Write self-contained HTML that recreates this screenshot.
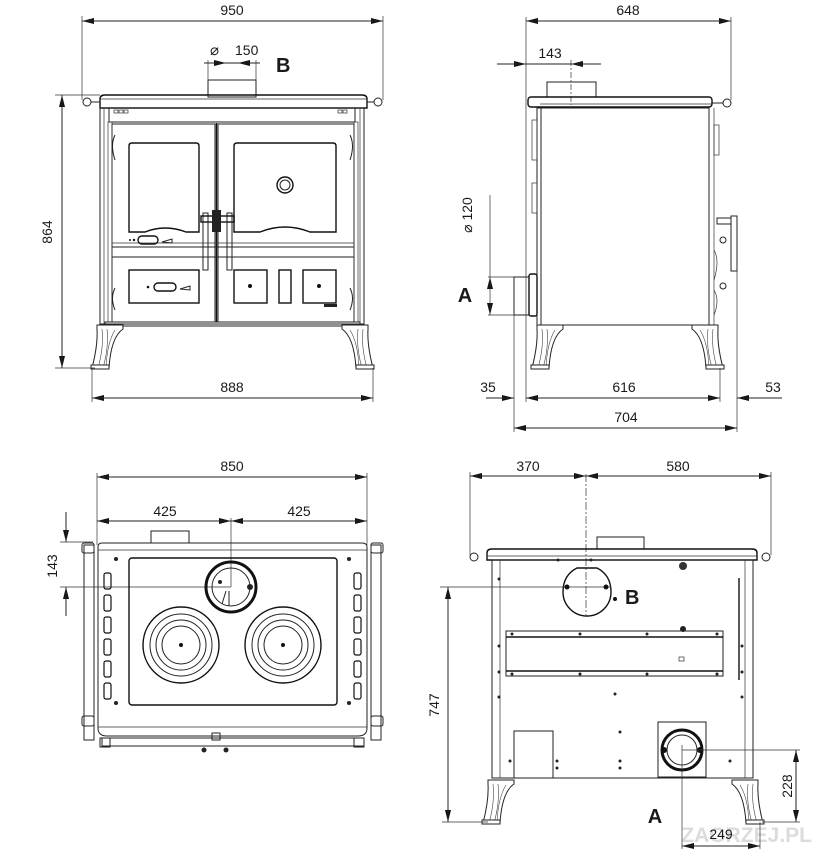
<!DOCTYPE html>
<html><head><meta charset="utf-8"><style>
html,body{margin:0;padding:0;background:#fff;}
svg{display:block;}
text{font-family:"Liberation Sans",sans-serif;fill:#1a1a1a;}
text.wm{fill:#dcdcdc;}
.d{stroke:#222;stroke-width:1;fill:none;}
.t{stroke:#333;stroke-width:0.7;fill:none;}
.k{stroke:#111;stroke-width:1.4;fill:none;}
.ar{fill:#111;stroke:none;}
</style></head><body>
<svg width="818" height="849" viewBox="0 0 818 849" xmlns="http://www.w3.org/2000/svg">
<defs>
<g id="legL"><path d="M2,0 L28,0 L28,4 Q16,12 14,43 L-3,43 Q3,20 2,4 z" fill="#fff" stroke="#222" stroke-width="1"/><path d="M7,4 Q9,22 3,43 M12,4 Q14,22 8,43 M20,5 Q12,18 11,43" stroke="#444" stroke-width="0.6" fill="none"/><rect x="-4" y="40" width="18" height="4" fill="#fff" stroke="#222"/></g>
<g id="legR"><use href="#legL" transform="scale(-1,1)"/></g>
</defs>

<text class="wm" x="812" y="842" font-size="21" font-weight="bold" text-anchor="end">ZAGRZEJ.PL</text>

<!-- arrowheads -->
<g class="ar">
<polygon points="94,18 82,21 94,24"/><polygon points="371,18 383,21 371,24"/>
<polygon points="214,60 226,63 214,66"/><polygon points="250,60 238,63 250,66"/>
<polygon points="59,107 62,95 65,107"/><polygon points="59,356 62,368 65,356"/>
<polygon points="104,395 92,398 104,401"/><polygon points="361,395 373,398 361,401"/>
<polygon points="538,18 526,21 538,24"/><polygon points="719,18 731,21 719,24"/>
<polygon points="514,61 526,64 514,67"/><polygon points="583,61 571,64 583,67"/>
<polygon points="487,289 490,277 493,289"/><polygon points="487,303 490,315 493,303"/>
<polygon points="502,395 514,398 502,401"/>
<polygon points="538,395 526,398 538,401"/><polygon points="708,395 720,398 708,401"/>
<polygon points="749,395 737,398 749,401"/>
<polygon points="526,425 514,428 526,431"/><polygon points="725,425 737,428 725,431"/>
<polygon points="109,474 97,477 109,480"/><polygon points="355,474 367,477 355,480"/>
<polygon points="109,518 97,521 109,524"/><polygon points="219,518 231,521 219,524"/>
<polygon points="243,518 231,521 243,524"/><polygon points="355,518 367,521 355,524"/>
<polygon points="63,530 66,542 69,530"/><polygon points="63,599 66,587 69,599"/>
<polygon points="482,473 470,476 482,479"/><polygon points="574,473 586,476 574,479"/>
<polygon points="598,473 586,476 598,479"/><polygon points="759,473 771,476 759,479"/>
<polygon points="445,599 448,587 451,599"/><polygon points="445,810 448,822 451,810"/>
<polygon points="793,762 796,750 799,762"/><polygon points="793,810 796,822 799,810"/>
<polygon points="694,843 682,846 694,849"/><polygon points="748,843 760,846 748,849"/>
</g>

<!-- ===== FRONT VIEW ===== -->
<text x="232" y="15" font-size="14" text-anchor="middle">950</text>
<line class="d" x1="82" y1="21" x2="383" y2="21"/>
<line class="t" x1="82" y1="16" x2="82" y2="100"/><line class="t" x1="383" y1="16" x2="383" y2="100"/>
<text x="210" y="55" font-size="15">⌀</text><text x="235" y="55" font-size="14">150</text>
<text x="276" y="72" font-size="20" font-weight="bold" fill="#222">B</text>
<line class="d" x1="204" y1="63" x2="260" y2="63"/>
<line class="t" x1="208" y1="60" x2="208" y2="80"/><line class="t" x1="256" y1="60" x2="256" y2="80"/>
<rect class="d" x="208" y="80" width="48" height="17"/>
<path class="k" d="M100,108 L100,99 Q100,95 105,95 L362,95 Q367,95 367,99 L367,108 Z" fill="#fff"/>
<line class="t" x1="100" y1="99" x2="367" y2="99"/>
<circle class="d" cx="87" cy="102" r="4" fill="#fff"/><circle class="d" cx="378" cy="102" r="4" fill="#fff"/>
<line class="d" x1="91" y1="102" x2="100" y2="102"/><line class="d" x1="367" y1="102" x2="374" y2="102"/>
<rect class="d" x="100" y="108" width="264" height="216"/>
<line class="t" x1="104" y1="108" x2="104" y2="324"/><line class="t" x1="360" y1="108" x2="360" y2="324"/>
<rect class="d" x="109" y="108" width="246" height="14"/>
<rect class="t" x="114" y="110" width="4" height="3"/><rect class="t" x="119" y="110" width="4" height="3"/><rect class="t" x="124" y="110" width="4" height="3"/>
<rect class="t" x="338" y="110" width="4" height="3"/><rect class="t" x="343" y="110" width="4" height="3"/>
<rect class="d" x="112" y="124" width="103" height="198"/>
<rect class="d" x="218" y="124" width="136" height="198"/>
<line class="k" x1="216.5" y1="123" x2="216.5" y2="322" stroke-width="2.5"/>
<path class="k" d="M129,146 Q129,143 132,143 L196,143 Q199,143 199,146 L199,232 L186,232 Q165,224 145,232 L129,232 Z"/>
<path class="k" d="M234,146 Q234,143 237,143 L333,143 Q336,143 336,146 L336,232 L310,232 Q285,222 260,232 L234,232 Z"/>
<circle class="k" cx="285" cy="185" r="8"/><circle class="d" cx="285" cy="185" r="5"/>
<line class="d" x1="112" y1="247" x2="354" y2="247"/><line class="d" x1="112" y1="257" x2="354" y2="257"/>
<line class="t" x1="112" y1="243" x2="354" y2="243"/>
<rect class="k" x="138" y="236" width="20" height="8" rx="4"/><circle cx="134" cy="240" r="1.2" fill="#111"/><circle cx="130" cy="240" r="1" fill="#111"/><path class="d" d="M162,242 L172,239 L172,243 Z"/>
<rect class="k" x="129" y="270" width="70" height="33"/>
<rect class="k" x="154" y="283" width="22" height="8" rx="4"/><circle cx="148" cy="287" r="1.3" fill="#111"/><path class="d" d="M180,289 L190,286 L190,290 Z"/>
<rect class="k" x="234" y="270" width="33" height="33"/><circle cx="250" cy="286" r="2" fill="#111"/>
<rect class="k" x="279" y="270" width="12" height="33"/>
<rect class="k" x="303" y="270" width="33" height="33"/><circle cx="319" cy="286" r="2" fill="#111"/>
<rect x="324" y="304" width="13" height="3" fill="#222"/>
<rect class="d" x="203" y="213" width="5" height="57" fill="#fff"/><rect class="d" x="227" y="213" width="5" height="57" fill="#fff"/>
<rect class="k" x="201" y="216" width="33" height="6" fill="#fff"/>
<rect x="212" y="210" width="9" height="22" fill="#222"/>
<rect class="t" x="108" y="122" width="4" height="200"/><rect class="t" x="354" y="122" width="4" height="200"/>
<path class="d" d="M115,135 Q110,145 115,160 M350,135 Q355,145 350,160 M115,288 Q110,298 115,310 M350,288 Q355,298 350,310"/>
<rect class="d" x="105" y="322" width="255" height="4"/>
<use href="#legL" transform="translate(95,325)"/><use href="#legR" transform="translate(370,325)"/>
<text x="52" y="232" font-size="14" text-anchor="middle" transform="rotate(-90 52 232)">864</text>
<line class="d" x1="62" y1="95" x2="62" y2="368"/>
<line class="t" x1="55" y1="95" x2="100" y2="95"/><line class="t" x1="55" y1="368" x2="95" y2="368"/>
<text x="232" y="392" font-size="14" text-anchor="middle">888</text>
<line class="d" x1="92" y1="398" x2="373" y2="398"/>
<line class="t" x1="92" y1="368" x2="92" y2="402"/><line class="t" x1="373" y1="368" x2="373" y2="402"/>

<!-- ===== SIDE VIEW ===== -->
<text x="628" y="15" font-size="14" text-anchor="middle">648</text>
<line class="d" x1="526" y1="21" x2="731" y2="21"/>
<line class="t" x1="526" y1="17" x2="526" y2="402"/><line class="t" x1="731" y1="17" x2="731" y2="100"/>
<text x="550" y="58" font-size="14" text-anchor="middle">143</text>
<line class="d" x1="497" y1="64" x2="601" y2="64"/>
<line class="t" x1="571" y1="60" x2="571" y2="105" stroke-dasharray="6,2,2,2"/>
<rect class="d" x="547" y="82" width="49" height="15"/>
<rect class="k" x="528" y="97" width="184" height="10" rx="3" fill="#fff"/>
<line class="t" x1="540" y1="104" x2="712" y2="104"/>
<circle class="d" cx="727" cy="103" r="4" fill="#fff"/><line class="d" x1="712" y1="103" x2="723" y2="103"/>
<rect class="d" x="537" y="108" width="172" height="217"/>
<line class="d" x1="541" y1="108" x2="541" y2="325"/>
<rect class="t" x="532" y="120" width="5" height="40"/><rect class="t" x="532" y="183" width="5" height="30"/>
<line class="t" x1="714" y1="108" x2="714" y2="325"/>
<rect class="t" x="714" y="125" width="5" height="30"/><rect class="d" x="731" y="216" width="6" height="55"/>
<rect class="d" x="717" y="218" width="14" height="6"/>
<circle class="d" cx="723" cy="240" r="3"/><circle class="d" cx="723" cy="286" r="3"/>
<path class="t" d="M714,250 Q720,260 714,280 M714,290 Q720,300 714,315"/>
<rect class="d" x="514" y="277" width="15" height="38"/>
<rect class="k" x="529" y="274" width="8" height="42" rx="2"/>
<text x="472" y="215" font-size="14" text-anchor="middle" transform="rotate(-90 472 215)">⌀  120</text>
<line class="t" x1="490" y1="195" x2="490" y2="315"/>
<line class="t" x1="488" y1="277" x2="514" y2="277"/><line class="t" x1="488" y1="315" x2="514" y2="315"/>
<text x="465" y="302" font-size="20" font-weight="bold" text-anchor="middle" fill="#222">A</text>
<use href="#legL" transform="translate(535,325)"/><use href="#legR" transform="translate(720,325)"/>
<line class="t" x1="514" y1="315" x2="514" y2="432"/><line class="t" x1="720" y1="368" x2="720" y2="402"/><line class="t" x1="737" y1="270" x2="737" y2="432"/>
<text x="488" y="392" font-size="14" text-anchor="middle">35</text>
<text x="624" y="392" font-size="14" text-anchor="middle">616</text>
<text x="773" y="392" font-size="14" text-anchor="middle">53</text>
<line class="d" x1="486" y1="398" x2="514" y2="398"/>
<line class="d" x1="526" y1="398" x2="720" y2="398"/>
<line class="d" x1="782" y1="398" x2="737" y2="398"/>
<text x="626" y="422" font-size="14" text-anchor="middle">704</text>
<line class="d" x1="514" y1="428" x2="737" y2="428"/>

<!-- ===== TOP VIEW ===== -->
<text x="232" y="471" font-size="14" text-anchor="middle">850</text>
<line class="d" x1="97" y1="477" x2="367" y2="477"/>
<line class="t" x1="97" y1="473" x2="97" y2="545"/><line class="t" x1="367" y1="473" x2="367" y2="545"/>
<text x="165" y="516" font-size="14" text-anchor="middle">425</text><text x="299" y="516" font-size="14" text-anchor="middle">425</text>
<line class="d" x1="97" y1="521" x2="367" y2="521"/>
<line class="t" x1="231" y1="518" x2="231" y2="587"/>
<rect class="d" x="151" y="531" width="38" height="12"/>
<text x="57" y="566" font-size="14" text-anchor="middle" transform="rotate(-90 57 566)">143</text>
<line class="d" x1="66" y1="512" x2="66" y2="542"/><line class="d" x1="66" y1="616" x2="66" y2="587"/>
<line class="t" x1="60" y1="542" x2="93" y2="542"/><line class="t" x1="60" y1="587" x2="231" y2="587"/>
<path class="d" d="M98,547 Q98,543 102,543 L362,543 Q367,543 367,547 L367,728 Q367,736 358,736 L107,736 Q98,736 98,728 Z"/>
<line class="t" x1="98" y1="550" x2="367" y2="550"/><line class="t" x1="98" y1="727" x2="367" y2="727"/>
<rect class="d" x="84" y="545" width="10" height="195"/><rect class="d" x="371" y="545" width="10" height="195"/>
<rect class="d" x="82" y="543" width="12" height="10" rx="2" fill="#fff"/><rect class="d" x="371" y="543" width="12" height="10" rx="2" fill="#fff"/>
<rect class="d" x="82" y="716" width="12" height="10" rx="2" fill="#fff"/><rect class="d" x="371" y="716" width="12" height="10" rx="2" fill="#fff"/>
<rect class="k" x="129" y="558" width="208" height="147" rx="3"/>
<g fill="none" stroke="#111" stroke-width="1.2">
<rect x="104" y="573" width="7" height="16" rx="2"/><rect x="104" y="595" width="7" height="16" rx="2"/><rect x="104" y="617" width="7" height="16" rx="2"/><rect x="104" y="639" width="7" height="16" rx="2"/><rect x="104" y="661" width="7" height="16" rx="2"/><rect x="104" y="683" width="7" height="16" rx="2"/>
<rect x="354" y="573" width="7" height="16" rx="2"/><rect x="354" y="595" width="7" height="16" rx="2"/><rect x="354" y="617" width="7" height="16" rx="2"/><rect x="354" y="639" width="7" height="16" rx="2"/><rect x="354" y="661" width="7" height="16" rx="2"/><rect x="354" y="683" width="7" height="16" rx="2"/>
</g>
<circle cx="116" cy="559" r="2" fill="#222"/><circle cx="349" cy="559" r="2" fill="#222"/><circle cx="116" cy="703" r="2" fill="#222"/><circle cx="349" cy="703" r="2" fill="#222"/>
<circle cx="231" cy="587" r="25" fill="none" stroke="#111" stroke-width="3"/><circle class="d" cx="231" cy="587" r="19"/>
<circle cx="250" cy="587" r="3" fill="#222"/><circle cx="220" cy="582" r="2" fill="#222"/>
<path class="d" d="M226,591 L222,604 M229,591 L229,606"/>
<circle class="k" cx="181" cy="645" r="38"/><circle class="d" cx="181" cy="645" r="31"/><circle class="d" cx="181" cy="645" r="25"/><circle class="d" cx="181" cy="645" r="19"/><circle cx="181" cy="645" r="2" fill="#111"/>
<circle class="k" cx="283" cy="645" r="38"/><circle class="d" cx="283" cy="645" r="31"/><circle class="d" cx="283" cy="645" r="25"/><circle class="d" cx="283" cy="645" r="19"/><circle cx="283" cy="645" r="2" fill="#111"/>
<rect class="d" x="102" y="738" width="262" height="8"/>
<rect class="d" x="100" y="738" width="10" height="9" fill="#fff"/><rect class="d" x="354" y="738" width="10" height="9" fill="#fff"/>
<circle cx="204" cy="750" r="2.5" fill="#222"/><circle cx="226" cy="750" r="2.5" fill="#222"/><rect class="d" x="212" y="733" width="8" height="7"/>

<!-- ===== BACK VIEW ===== -->
<text x="528" y="471" font-size="14" text-anchor="middle">370</text><text x="678" y="471" font-size="14" text-anchor="middle">580</text>
<line class="d" x1="470" y1="476" x2="771" y2="476"/>
<line class="t" x1="470" y1="472" x2="470" y2="555"/><line class="t" x1="771" y1="472" x2="771" y2="555"/>
<line class="t" x1="586" y1="474" x2="586" y2="615" stroke-dasharray="8,2,2,2"/>
<rect class="d" x="597" y="537" width="47" height="12"/>
<path class="k" d="M487,560 L487,553 Q487,549 492,549 L752,549 Q757,549 757,553 L757,560 Z" fill="#fff"/>
<line class="t" x1="487" y1="556" x2="757" y2="556"/>
<circle class="d" cx="474" cy="557" r="4" fill="#fff"/><circle class="d" cx="766" cy="557" r="4" fill="#fff"/>
<rect class="d" x="492" y="560" width="261" height="218"/>
<line class="t" x1="500" y1="560" x2="500" y2="778"/><line class="t" x1="745" y1="560" x2="745" y2="778"/>
<line class="k" x1="739" y1="578" x2="739" y2="680"/>
<path class="k" d="M577,568 L597,568 Q611,575 611,592 A24,24 0 1 1 563,592 Q563,575 577,568 Z"/>
<line class="t" x1="440" y1="587" x2="611" y2="587"/>
<circle cx="567" cy="587" r="2.5" fill="#111"/><circle cx="606" cy="587" r="2.5" fill="#111"/><circle cx="615" cy="599" r="2" fill="#111"/>
<text x="625" y="604" font-size="20" font-weight="bold" fill="#222">B</text>
<circle cx="683" cy="566" r="4" fill="#333"/><circle cx="683" cy="629" r="3" fill="#222"/>
<rect class="d" x="506" y="631" width="217" height="45"/>
<line class="k" x1="506" y1="637" x2="723" y2="637" stroke-width="1.6"/><line class="k" x1="506" y1="671" x2="723" y2="671" stroke-width="1.6"/>
<rect class="t" x="679" y="657" width="5" height="4"/>
<g fill="#222"><circle cx="512" cy="634" r="1.5"/><circle cx="580" cy="634" r="1.5"/><circle cx="647" cy="634" r="1.5"/><circle cx="717" cy="634" r="1.5"/><circle cx="512" cy="674" r="1.5"/><circle cx="580" cy="674" r="1.5"/><circle cx="647" cy="674" r="1.5"/><circle cx="717" cy="674" r="1.5"/>
<circle cx="499" cy="579" r="1.5"/><circle cx="499" cy="646" r="1.5"/><circle cx="499" cy="672" r="1.5"/><circle cx="499" cy="697" r="1.5"/><circle cx="742" cy="646" r="1.5"/><circle cx="742" cy="672" r="1.5"/><circle cx="742" cy="697" r="1.5"/>
<circle cx="615" cy="694" r="1.5"/><circle cx="620" cy="732" r="1.5"/><circle cx="620" cy="761" r="1.5"/><circle cx="620" cy="768" r="1.5"/><circle cx="510" cy="761" r="1.5"/><circle cx="557" cy="761" r="1.5"/><circle cx="557" cy="768" r="1.5"/><circle cx="730" cy="761" r="1.5"/>
<circle cx="558" cy="560" r="1.5"/><circle cx="591" cy="560" r="1.5"/></g>
<rect class="d" x="514" y="731" width="39" height="47"/>
<rect class="d" x="658" y="722" width="48" height="55"/>
<circle cx="682" cy="750" r="20" fill="none" stroke="#111" stroke-width="3"/><circle class="d" cx="682" cy="750" r="15"/>
<circle cx="664" cy="750" r="3" fill="#111"/><circle cx="700" cy="750" r="3" fill="#111"/>
<line class="t" x1="682" y1="745" x2="682" y2="849"/><line class="t" x1="682" y1="750" x2="800" y2="750"/>
<use href="#legL" transform="translate(486,780)"/><use href="#legR" transform="translate(760,780)"/>
<text x="439" y="705" font-size="14" text-anchor="middle" transform="rotate(-90 439 705)">747</text>
<line class="d" x1="448" y1="587" x2="448" y2="822"/>
<line class="t" x1="442" y1="822" x2="488" y2="822"/>
<text x="655" y="823" font-size="20" font-weight="bold" text-anchor="middle" fill="#222">A</text>
<text x="792" y="786" font-size="14" text-anchor="middle" transform="rotate(-90 792 786)">228</text>
<line class="d" x1="796" y1="750" x2="796" y2="822"/>
<line class="t" x1="762" y1="822" x2="800" y2="822"/>
<text x="721" y="839" font-size="14" text-anchor="middle">249</text>
<line class="t" x1="760" y1="822" x2="760" y2="849"/>
<line class="d" x1="682" y1="846" x2="760" y2="846"/>
</svg>
</body></html>
